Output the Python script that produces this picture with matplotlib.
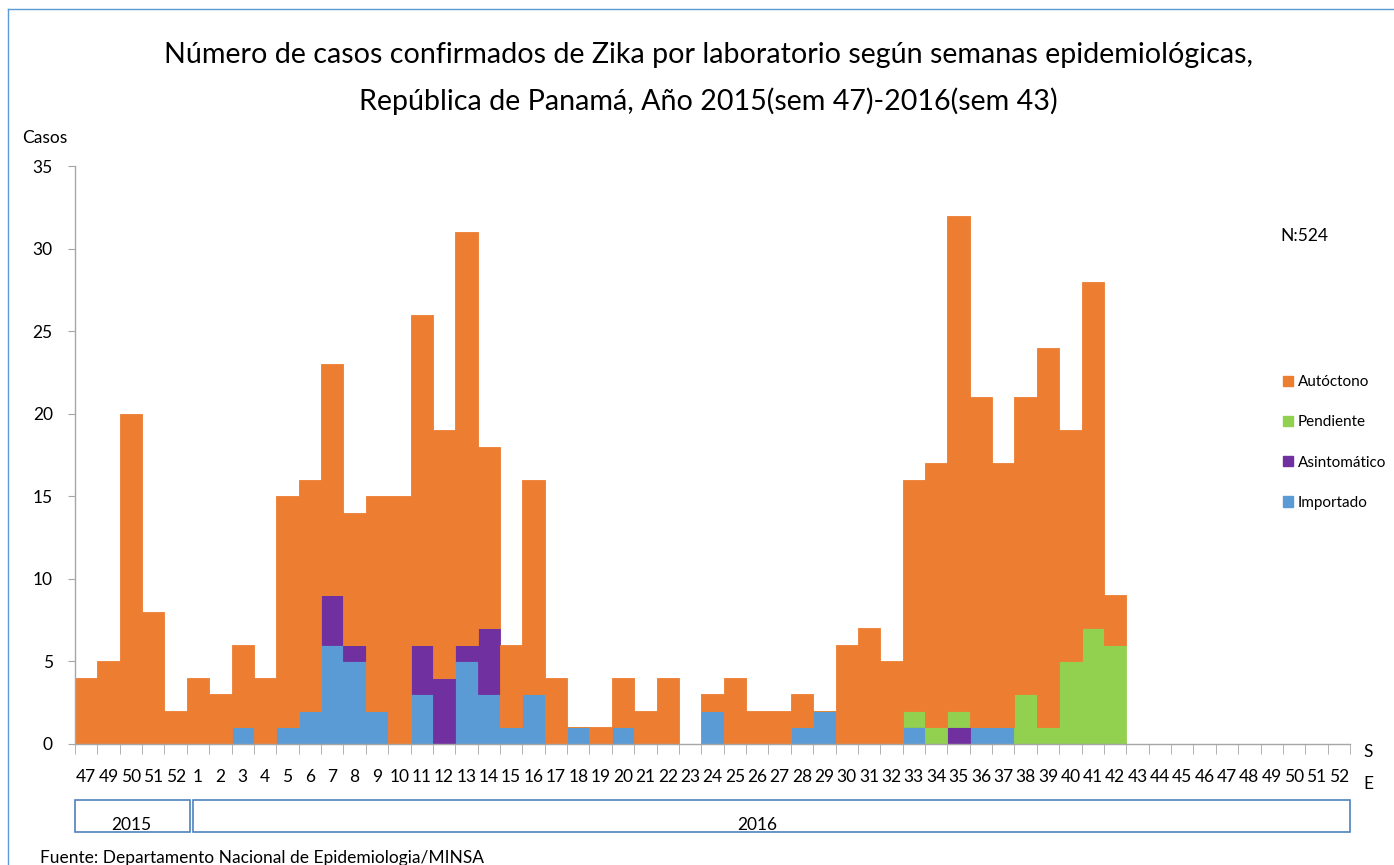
import matplotlib
matplotlib.use("Agg")
import matplotlib.pyplot as plt
from matplotlib.patches import Rectangle
from matplotlib.lines import Line2D
from matplotlib.transforms import blended_transform_factory
import numpy as np

plt.rcParams['font.family'] = ['Lato', 'DejaVu Sans']

weeks = ['47', '49', '50', '51', '52'] + [str(i) for i in range(1, 53)]
n2015 = 5

total = [4, 5, 20, 8, 2,
         4, 3, 6, 4, 15, 16, 23, 14, 15, 15,
         26, 19, 31, 18, 6, 16, 4, 1, 1, 4,
         2, 4, 0, 3, 4, 2, 2, 3, 2, 6,
         7, 5, 16, 17, 32, 21, 17, 21, 24, 19, 28, 9,
         0, 0, 0, 0, 0, 0, 0, 0, 0, 0]
importado = [0, 0, 0, 0, 0,
             0, 0, 1, 0, 1, 2, 6, 5, 2, 0,
             3, 0, 5, 3, 1, 3, 0, 1, 0, 1,
             0, 0, 0, 2, 0, 0, 0, 1, 2, 0,
             0, 0, 1, 0, 0, 1, 1, 0, 0, 0, 0, 0,
             0, 0, 0, 0, 0, 0, 0, 0, 0, 0]
asintomatico = [0, 0, 0, 0, 0,
                0, 0, 0, 0, 0, 0, 3, 1, 0, 0,
                3, 4, 1, 4, 0, 0, 0, 0, 0, 0,
                0, 0, 0, 0, 0, 0, 0, 0, 0, 0,
                0, 0, 0, 0, 1, 0, 0, 0, 0, 0, 0, 0,
                0, 0, 0, 0, 0, 0, 0, 0, 0, 0]
pendiente = [0, 0, 0, 0, 0,
             0, 0, 0, 0, 0, 0, 0, 0, 0, 0,
             0, 0, 0, 0, 0, 0, 0, 0, 0, 0,
             0, 0, 0, 0, 0, 0, 0, 0, 0, 0,
             0, 0, 1, 1, 1, 0, 0, 3, 1, 5, 7, 6,
             0, 0, 0, 0, 0, 0, 0, 0, 0, 0]

imp = np.array(importado)
asi = np.array(asintomatico)
pen = np.array(pendiente)
aut = np.array(total) - imp - asi - pen

c_aut = '#ED7D31'
c_pen = '#92D050'
c_asi = '#7030A0'
c_imp = '#5B9BD5'

W, H = 1394, 865
fig = plt.figure(figsize=(W / 100, H / 100), dpi=100)
fig.patch.set_facecolor('white')

left, right, top, bottom = 75, 1350, 166, 744
ax = fig.add_axes([left / W, 1 - bottom / H, (right - left) / W, (bottom - top) / H])

x = np.arange(len(weeks))
kw = dict(width=1.0, linewidth=0.6)
ax.bar(x, imp, color=c_imp, edgecolor=c_imp, **kw)
ax.bar(x, asi, bottom=imp, color=c_asi, edgecolor=c_asi, **kw)
ax.bar(x, pen, bottom=imp + asi, color=c_pen, edgecolor=c_pen, **kw)
ax.bar(x, aut, bottom=imp + asi + pen, color=c_aut, edgecolor=c_aut, **kw)

fs = 12.5
ax.set_xlim(-0.5, len(weeks) - 0.5)
ax.set_ylim(0, 35)
ax.set_yticks(range(0, 36, 5))
ax.set_xticks(x)
ax.set_xticklabels(weeks)
ax.set_xticks(np.arange(-0.5, len(weeks), 1.0), minor=True)
ax.tick_params(axis='x', which='major', length=0, pad=18, labelsize=fs)
ax.tick_params(axis='x', which='minor', length=7, color='#A6A6A6', direction='out')
ax.tick_params(axis='y', length=5, color='#A6A6A6', pad=11, labelsize=fs)
for s in ['top', 'right']:
    ax.spines[s].set_visible(False)
for s in ['left', 'bottom']:
    ax.spines[s].set_color('#A6A6A6')
    ax.spines[s].set_linewidth(1.0)

# Title
fig.text(708 / W, 1 - 55 / H, 'Número de casos confirmados de Zika por laboratorio según semanas epidemiológicas,',
         ha='center', va='center', fontsize=20.6)
fig.text(708 / W, 1 - 101 / H, 'República de Panamá, Año 2015(sem 47)-2016(sem 43)',
         ha='center', va='center', fontsize=20.6)

fig.text(45 / W, 1 - 138 / H, 'Casos', ha='center', va='center', fontsize=fs)
fig.text(1304 / W, 1 - 236 / H, 'N:524', ha='center', va='center', fontsize=fs)
fig.text(1368 / W, 1 - 752 / H, 'S', ha='center', va='center', fontsize=fs)
fig.text(1368 / W, 1 - 784 / H, 'E', ha='center', va='center', fontsize=fs)

# Legend
handles = [Rectangle((0, 0), 1, 1, color=c) for c in [c_aut, c_pen, c_asi, c_imp]]
labels = ['Autóctono', 'Pendiente', 'Asintomático', 'Importado']
fig.legend(handles, labels, loc='upper left', bbox_to_anchor=(1283 / W, 1 - 375 / H),
           frameon=False, fontsize=11, handlelength=0.65, handleheight=0.65,
           handletextpad=0.3, labelspacing=1.72, borderpad=0, borderaxespad=0)

# Year boxes
tr = blended_transform_factory(ax.transData, fig.transFigure)
box_y0 = 1 - 832 / H
box_h = (832 - 800) / H
ax.add_patch(Rectangle((-0.5, box_y0), n2015 + 0.15, box_h, transform=tr, fill=False,
                       edgecolor='#4F81BD', linewidth=1.2, clip_on=False))
ax.add_patch(Rectangle((n2015 - 0.22, box_y0), len(weeks) - n2015 - 0.28, box_h, transform=tr,
                       fill=False, edgecolor='#4F81BD', linewidth=1.2, clip_on=False))
ax.text((n2015 - 1) / 2, 1 - 825 / H, '2015', transform=tr, ha='center', va='center', fontsize=fs)
ax.text(30, 1 - 825 / H, '2016', transform=tr, ha='center', va='center', fontsize=fs)

# Outer frame
fig.add_artist(Line2D([8 / W, 8 / W], [0, 1 - 9 / H], transform=fig.transFigure, color='#5B9BD5', linewidth=1.0))
fig.add_artist(Line2D([8 / W, 1], [1 - 9 / H, 1 - 9 / H], transform=fig.transFigure, color='#5B9BD5', linewidth=1.0))

fig.text(40 / W, 1 - 858 / H, 'Fuente: Departamento Nacional de Epidemiologia/MINSA',
         ha='left', va='center', fontsize=fs)

fig.savefig('out.png', dpi=100, facecolor='white')
